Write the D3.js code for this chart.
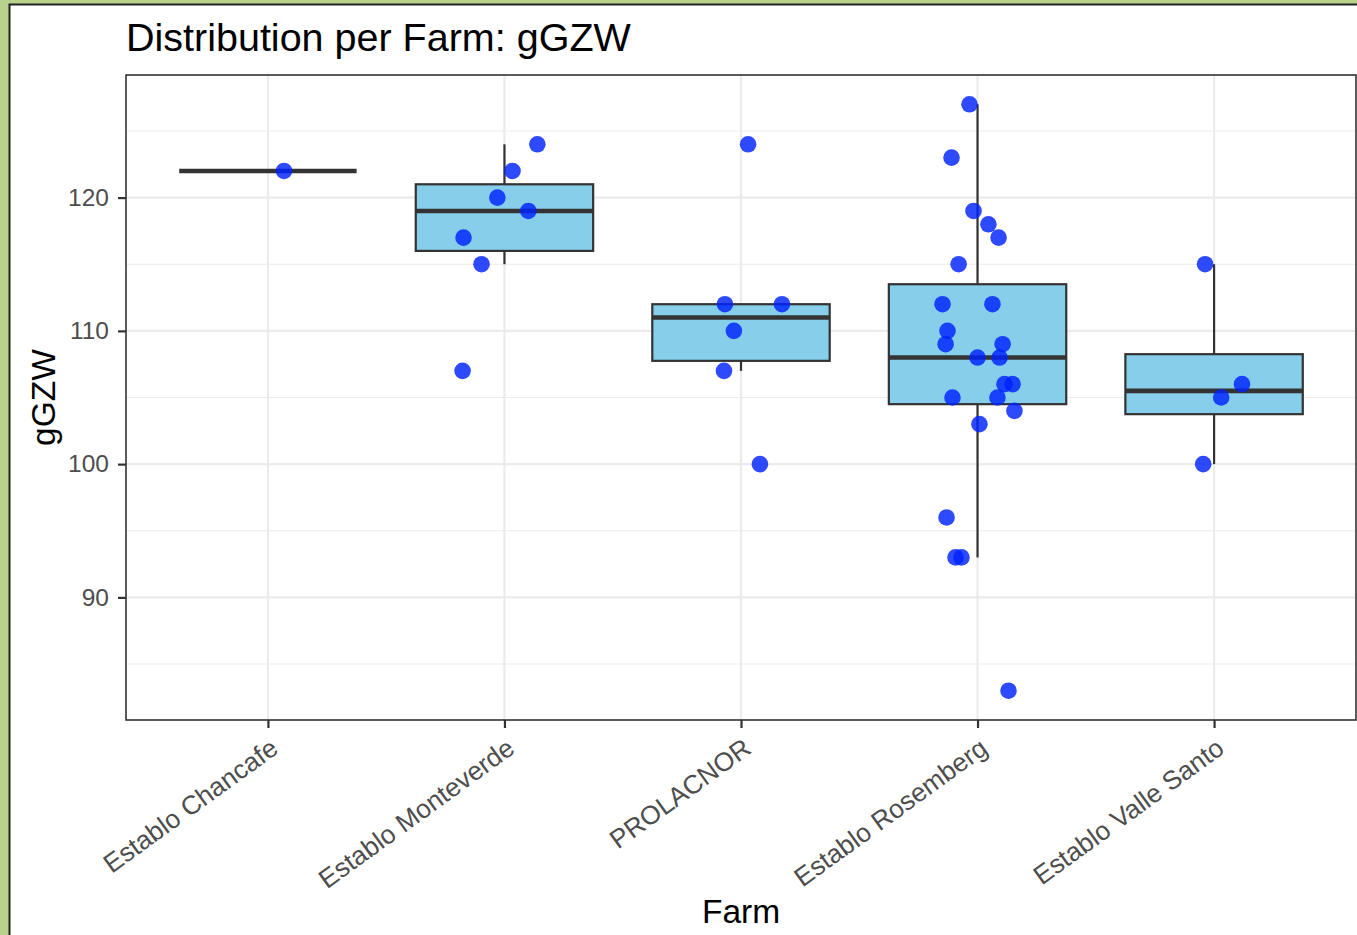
<!DOCTYPE html>
<html>
<head>
<meta charset="utf-8">
<script src="https://cdn.jsdelivr.net/npm/d3@7"></script>
<style>
  body { margin: 0; background: #b8d28d; }
  svg { display: block; font-family: "Liberation Sans", Arial, sans-serif; }
</style>
</head>
<body>
<div id="chart"></div>
<script>
// farms, in plotting order
const farms = ["Establo Chancafe", "Establo Monteverde", "PROLACNOR", "Establo Rosemberg", "Establo Valle Santo"];

// gGZW values per farm
const chancafe = [122];
const monteverde = [124, 122, 120, 119, 117, 115, 107];
const prolacnor = [124, 112, 112, 110, 107, 100];
const rosemberg = [127, 123, 119, 118, 117, 115, 112, 112, 110, 109, 109, 108, 108, 106, 106, 105, 105, 104, 103, 96, 93, 93, 83];
const valleSanto = [115, 106, 105, 100];

// horizontal jitter of each point, as a fraction of the category step
const chancafeJit = [0.068];
const monteverdeJit = [0.139, 0.034, -0.03, 0.101, -0.173, -0.097, -0.177];
const prolacnorJit = [0.03, -0.068, 0.173, -0.03, -0.072, 0.08];
const rosembergJit = [-0.034, -0.11, -0.017, 0.046, 0.089, -0.08, -0.148, 0.063, -0.127, -0.135, 0.106, 0, 0.093, 0.114, 0.148, -0.106, 0.084, 0.156, 0.008, -0.131, -0.093, -0.068, 0.131];
const valleSantoJit = [-0.038, 0.118, 0.03, -0.046];

const yTicks = [90, 100, 110, 120];
const yMinor = [85, 95, 105, 115, 125];

const values = [chancafe, monteverde, prolacnor, rosemberg, valleSanto];
const jitters = [chancafeJit, monteverdeJit, prolacnorJit, rosembergJit, valleSantoJit];

const width = 1357, height = 935;
const panel = {left: 126, top: 75, right: 1356, bottom: 720};

const svg = d3.select("#chart").append("svg")
    .attr("width", width)
    .attr("height", height);

// white card with dark edge on the green background
svg.append("rect")
    .attr("x", 9.5).attr("y", 4.5)
    .attr("width", width).attr("height", height)
    .attr("fill", "white")
    .attr("stroke", "#222")
    .attr("stroke-width", 2);

let all = values.flat();
let lo = d3.min(all), hi = d3.max(all), pad = (hi - lo) * 0.05;

let y = d3.scaleLinear()
    .domain([lo - pad, hi + pad])
    .range([panel.bottom, panel.top]);

let x = d3.scalePoint()
    .domain(farms)
    .range([panel.left, panel.right])
    .padding(0.6);

let step = x.step();
let boxW = step * 0.75;

// grid
let grid = svg.append("g");
grid.selectAll(".minor").data(yMinor).enter().append("line")
    .attr("x1", panel.left).attr("x2", panel.right)
    .attr("y1", d => y(d)).attr("y2", d => y(d))
    .attr("stroke", "#ebebeb").attr("stroke-width", 1.1);
grid.selectAll(".major").data(yTicks).enter().append("line")
    .attr("x1", panel.left).attr("x2", panel.right)
    .attr("y1", d => y(d)).attr("y2", d => y(d))
    .attr("stroke", "#ebebeb").attr("stroke-width", 2.2);
grid.selectAll(".vmajor").data(farms).enter().append("line")
    .attr("x1", d => x(d)).attr("x2", d => x(d))
    .attr("y1", panel.top).attr("y2", panel.bottom)
    .attr("stroke", "#ebebeb").attr("stroke-width", 2.2);

// box stats (R type 7 quantiles, like ggplot)
let stats = farms.map(function (f, i) {
    let v = values[i].slice().sort(d3.ascending);
    let q1 = d3.quantile(v, 0.25), med = d3.quantile(v, 0.5), q3 = d3.quantile(v, 0.75);
    let iqr = q3 - q1;
    let inside = v.filter(d => d >= q1 - 1.5 * iqr && d <= q3 + 1.5 * iqr);
    return {farm: f, q1: q1, med: med, q3: q3, lo: d3.min(inside), hi: d3.max(inside)};
});

let boxes = svg.append("g").selectAll("g").data(stats).enter().append("g");

boxes.append("line")
    .attr("x1", d => x(d.farm)).attr("x2", d => x(d.farm))
    .attr("y1", d => y(d.hi)).attr("y2", d => y(d.q3))
    .attr("stroke", "#333").attr("stroke-width", 2.2);
boxes.append("line")
    .attr("x1", d => x(d.farm)).attr("x2", d => x(d.farm))
    .attr("y1", d => y(d.q1)).attr("y2", d => y(d.lo))
    .attr("stroke", "#333").attr("stroke-width", 2.2);
boxes.append("rect")
    .attr("x", d => x(d.farm) - boxW / 2)
    .attr("width", boxW)
    .attr("y", d => y(d.q3))
    .attr("height", d => y(d.q1) - y(d.q3))
    .attr("fill", "#87ceeb")
    .attr("stroke", "#333").attr("stroke-width", 2.2);
boxes.append("line")
    .attr("x1", d => x(d.farm) - boxW / 2).attr("x2", d => x(d.farm) + boxW / 2)
    .attr("y1", d => y(d.med)).attr("y2", d => y(d.med))
    .attr("stroke", "#333").attr("stroke-width", 4.6);

// jittered points
let pts = [];
farms.forEach(function (f, i) {
    values[i].forEach(function (v, j) {
        pts.push({farm: f, v: v, jit: jitters[i][j]});
    });
});

svg.append("g").selectAll("circle").data(pts).enter().append("circle")
    .attr("cx", d => x(d.farm) + d.jit * step)
    .attr("cy", d => y(d.v))
    .attr("r", 8.3)
    .attr("fill", "#0022ff")
    .attr("fill-opacity", 0.82);

// panel border
svg.append("rect")
    .attr("x", panel.left).attr("y", panel.top)
    .attr("width", panel.right - panel.left)
    .attr("height", panel.bottom - panel.top)
    .attr("fill", "none")
    .attr("stroke", "#333").attr("stroke-width", 1.6);

// y axis
let yAxis = svg.append("g")
    .attr("transform", "translate(" + panel.left + ",0)")
    .call(d3.axisLeft(y).tickValues(yTicks).tickSize(8).tickPadding(9));
yAxis.select(".domain").remove();
yAxis.selectAll(".tick line").attr("stroke", "#333").attr("stroke-width", 2.2);
yAxis.selectAll(".tick text")
    .attr("fill", "#4d4d4d")
    .style("font-size", "24.5px")
    .style("font-family", "'Liberation Sans', Arial, sans-serif");

// x axis
let xAxis = svg.append("g")
    .attr("transform", "translate(0," + panel.bottom + ")")
    .call(d3.axisBottom(x).tickSize(8).tickFormat(""));
xAxis.select(".domain").remove();
xAxis.selectAll(".tick line").attr("stroke", "#333").attr("stroke-width", 2.2);

svg.append("g").selectAll("text").data(farms).enter().append("text")
    .attr("transform", d => "translate(" + (x(d) + 1) + "," + (panel.bottom + 17) + ") rotate(-36)")
    .attr("text-anchor", "end")
    .attr("dy", "0.7em")
    .attr("fill", "#4d4d4d")
    .style("font-size", "26.3px")
    .text(d => d);

// titles
svg.append("text")
    .attr("x", panel.left).attr("y", 51)
    .style("font-size", "39.5px")
    .text("Distribution per Farm: gGZW");

svg.append("text")
    .attr("x", (panel.left + panel.right) / 2).attr("y", 923)
    .attr("text-anchor", "middle")
    .style("font-size", "33.5px")
    .text("Farm");

svg.append("text")
    .attr("transform", "translate(55," + ((panel.top + panel.bottom) / 2) + ") rotate(-90)")
    .attr("text-anchor", "middle")
    .style("font-size", "33.5px")
    .text("gGZW");
</script>
</body>
</html>
